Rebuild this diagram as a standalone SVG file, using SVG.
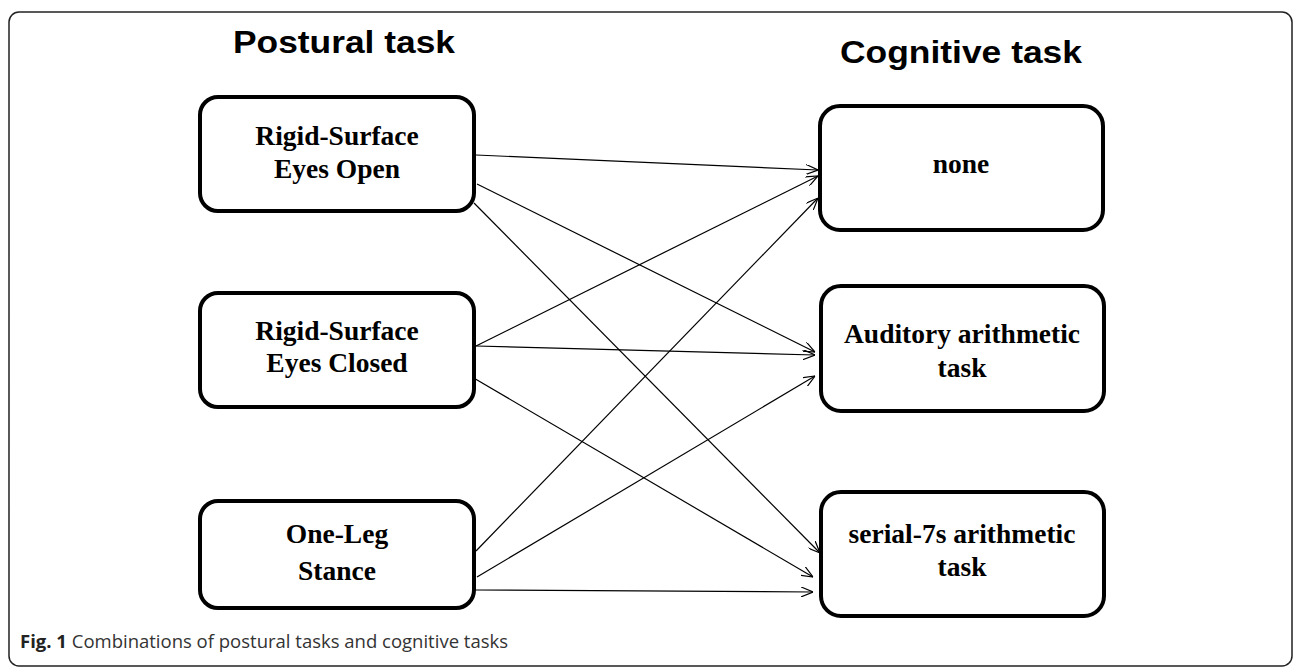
<svg xmlns="http://www.w3.org/2000/svg" width="1295" height="668" viewBox="0 0 1295 668">
<style>
.frame{fill:none;stroke:#222;stroke-width:1.5}
.box{fill:#fff;stroke:#000;stroke-width:4}
.lbl{font-family:"Liberation Serif","Times New Roman",serif;font-weight:bold;font-size:27.5px;fill:#000;text-anchor:middle}
.head{font-family:"Liberation Sans",Arial,sans-serif;font-weight:bold;font-size:32px;fill:#000;text-anchor:middle}
.cap{font-family:"Open Sans","Noto Sans",sans-serif;font-size:18.5px;fill:#333}
.con line{stroke:#000;stroke-width:1.2;fill:none;marker-end:url(#arr)}
</style>
<defs>
<marker id="arr" viewBox="0 0 12 10" refX="12" refY="5" markerWidth="12" markerHeight="10" markerUnits="userSpaceOnUse" orient="auto">
<path d="M0,0 L12,5 L0,10" fill="none" stroke="#000" stroke-width="1.2"/>
</marker>
</defs>
<rect class="frame" x="9" y="12" width="1283" height="654" rx="10"/>
<text class="head" x="344" y="53" textLength="222" lengthAdjust="spacingAndGlyphs">Postural task</text>
<text class="head" x="961" y="63" textLength="242" lengthAdjust="spacingAndGlyphs">Cognitive task</text>
<g class="con" id="connectors">
<line x1="476" y1="155" x2="818" y2="170"/>
<line x1="477" y1="184" x2="815" y2="352"/>
<line x1="474" y1="203" x2="820" y2="553"/>
<line x1="476" y1="346" x2="818" y2="176"/>
<line x1="476" y1="346" x2="815" y2="355"/>
<line x1="472" y1="377" x2="813" y2="577"/>
<line x1="476" y1="551" x2="818" y2="198"/>
<line x1="477" y1="577" x2="815" y2="376"/>
<line x1="475" y1="590" x2="813" y2="592"/>
</g>
<g id="n-rseo"><rect class="box" x="200" y="97" width="274" height="114" rx="18"/><text class="lbl" x="337" y="145">Rigid-Surface</text><text class="lbl" x="337" y="178">Eyes Open</text></g>
<g id="n-rsec"><rect class="box" x="200" y="293" width="274" height="114" rx="18"/><text class="lbl" x="337" y="340">Rigid-Surface</text><text class="lbl" x="337" y="372">Eyes Closed</text></g>
<g id="n-ols"><rect class="box" x="200" y="501" width="274" height="107" rx="18"/><text class="lbl" x="337" y="543">One-Leg</text><text class="lbl" x="337" y="580">Stance</text></g>
<g id="n-none"><rect class="box" x="820" y="106" width="283" height="124" rx="20"/><text class="lbl" x="961" y="173">none</text></g>
<g id="n-aud"><rect class="box" x="821" y="286" width="283" height="125" rx="20"/><text class="lbl" x="962" y="343">Auditory arithmetic</text><text class="lbl" x="962" y="377">task</text></g>
<g id="n-ser"><rect class="box" x="821" y="492" width="283" height="124" rx="20"/><text class="lbl" x="962" y="543">serial-7s arithmetic</text><text class="lbl" x="962" y="576">task</text></g>
<text class="cap" x="20" y="648"><tspan font-weight="bold" fill="#222">Fig. 1</tspan> Combinations of postural tasks and cognitive tasks</text>
</svg>
